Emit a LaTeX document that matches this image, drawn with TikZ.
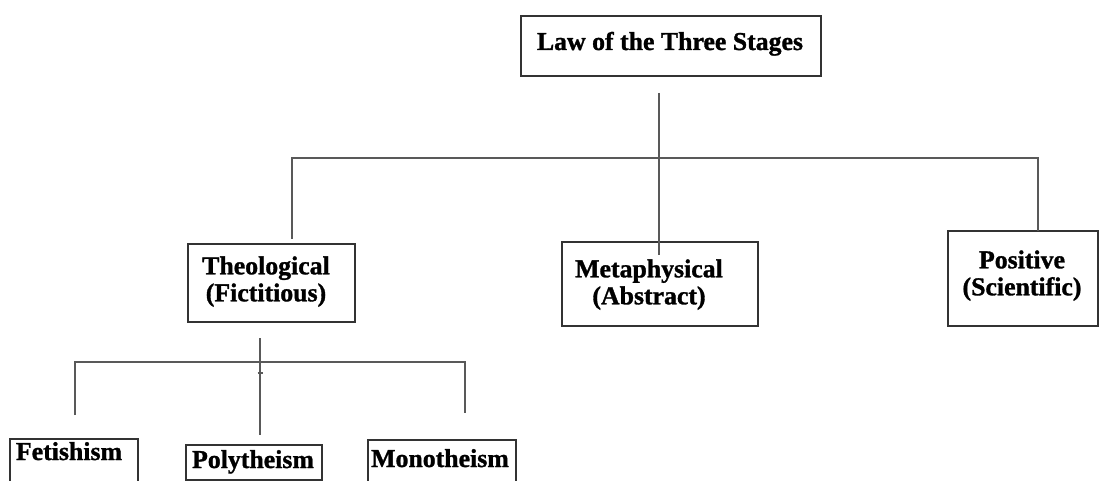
\documentclass[tikz,border=0pt]{standalone}
\usepackage{fontspec}
\setmainfont[BoldFeatures={FakeBold=1.2}]{Liberation Serif}
\usetikzlibrary{calc}
\begin{document}
\begin{tikzpicture}[x=1pt,y=-1pt,
  box/.style={draw=black!80, line width=1.6pt, inner sep=0pt, outer sep=0pt},
  conn/.style={draw=black!65, line width=1.6pt},
  lbl/.style={font=\bfseries\fontsize{25.8}{27}\selectfont, align=center, inner sep=0pt, text=black}]
\clip (0,0) rectangle (1103,481);
\fill[white] (0,0) rectangle (1103,481);
% boxes
\node[box, minimum width=300pt, minimum height=60pt] (top) at (671,46) {};
\node[box, minimum width=167pt, minimum height=78pt] (theo) at (271.5,283) {};
\node[box, minimum width=196pt, minimum height=84pt] (meta) at (660,284) {};
\node[box, minimum width=150pt, minimum height=95pt] (pos) at (1023,278.5) {};
\node[box, minimum width=128pt, minimum height=56pt] (fet) at (74,467) {};
\node[box, minimum width=136pt, minimum height=35pt] (poly) at (254,462.5) {};
\node[box, minimum width=148pt, minimum height=55pt] (mono) at (442,467.5) {};
% labels
\node[lbl, anchor=base] (topt) at (670,50) {Law of the Three Stages};
\node[lbl] (theot) at (266,281.6) {Theological\\(Fictitious)};
\node[lbl] (metat) at (649,284.6) {Metaphysical\\(Abstract)};
\node[lbl] (post) at (1022,275.6) {Positive\\(Scientific)};
\node[lbl, anchor=base] (fett) at (69,460) {Fetishism};
\node[lbl, anchor=base] (polyt) at (253,468) {Polytheism};
\node[lbl, anchor=base] (monot) at (440,467) {Monotheism};
% connector points
\coordinate (t1) at (659,93);
\coordinate (t2) at (659,255);
\coordinate (hL) at (292,158);
\coordinate (hR) at (1038,158);
\coordinate (theoIn) at (292,239);
\coordinate (b1) at (260,338);
\coordinate (b2) at (260,435);
\coordinate (bL) at (75,362);
\coordinate (bR) at (465,362);
\coordinate (fetIn) at (75,415);
\coordinate (monoIn) at (465,413);
% connectors
\draw[conn] (t1) -- (t2);
\draw[conn] (theoIn) -- (hL) -- (hR) -- (pos.north -| hR);
\draw[conn] (b1) -- (b2);
\draw[conn] (fetIn) -- (bL) -- (bR) -- (monoIn);
\draw[conn, line width=1.2pt] ($(b1)+(-2.5,35)$) -- ($(b1)+(2.5,35)$);
\draw[black!80, line width=2.5pt] ($(mono.north west)+(47,0)$) -- ($(mono.north west)+(65,0)$);
\end{tikzpicture}
\end{document}
